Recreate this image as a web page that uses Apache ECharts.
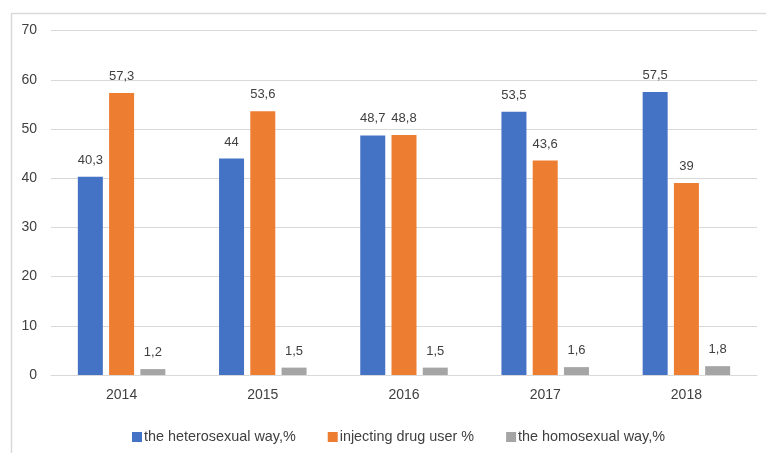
<!DOCTYPE html>
<html><head><meta charset="utf-8">
<script src="https://cdn.jsdelivr.net/npm/echarts@6/dist/echarts.min.js"></script>
<style>html,body{margin:0;padding:0;background:#fff}#c{width:766px;height:453px}</style>
</head><body><div id="c"></div>
<script>
const categories = ['2014', '2015', '2016', '2017', '2018'];
const heterosexual = [40.3, 44, 48.7, 53.5, 57.5];
const injecting = [57.3, 53.6, 48.8, 43.6, 39];
const homosexual = [1.2, 1.5, 1.5, 1.6, 1.8];
const seriesNames = ['the heterosexual way,%', 'injecting drug user %', 'the homosexual way,%'];
const yTicks = [0, 10, 20, 30, 40, 50, 60, 70];

const FONT = '"Liberation Sans", Arial, sans-serif';
const fmt = p => String(p.value).replace('.', ',');
const lbl = {show: true, position: 'top', distance: 10, color: '#404040', fontSize: 13, fontFamily: FONT, formatter: fmt};

const chart = echarts.init(document.getElementById('c'), null, {renderer: 'canvas'});
chart.setOption({
  animation: false,
  color: ['#4472C4', '#ED7D31', '#A5A5A5'],
  graphic: [{type: 'rect', left: 9, top: 11, shape: {width: 800, height: 500}, style: {fill: 'none', stroke: '#d9d9d9', lineWidth: 1.5}, silent: true}],
  grid: {left: 51, right: 9, top: 30.6, bottom: 78, containLabel: false},
  legend: {
    data: seriesNames, left: 127, top: 425, itemWidth: 10, itemHeight: 10, itemGap: 32,
    icon: 'rect', textStyle: {color: '#404040', fontSize: 14.4, fontFamily: FONT, padding: [0, 0, 0, -3]}
  },
  xAxis: {
    type: 'category', data: categories,
    axisLine: {lineStyle: {color: '#d9d9d9', width: 1}},
    axisTick: {show: false},
    axisLabel: {color: '#404040', fontSize: 14, fontFamily: FONT, margin: 13}
  },
  yAxis: {
    type: 'value', min: yTicks[0], max: yTicks[yTicks.length - 1], interval: 10,
    axisLine: {show: false}, axisTick: {show: false},
    splitLine: {lineStyle: {color: '#d9d9d9', width: 1}},
    axisLabel: {color: '#404040', fontSize: 14, fontFamily: FONT, margin: 14}
  },
  series: [
    {name: seriesNames[0], type: 'bar', data: heterosexual, barWidth: 25, barGap: '25%', label: lbl},
    {name: seriesNames[1], type: 'bar', data: injecting, barWidth: 25, barGap: '25%', label: lbl},
    {name: seriesNames[2], type: 'bar', data: homosexual, barWidth: 25, barGap: '25%', label: lbl}
  ]
});
</script></body></html>
